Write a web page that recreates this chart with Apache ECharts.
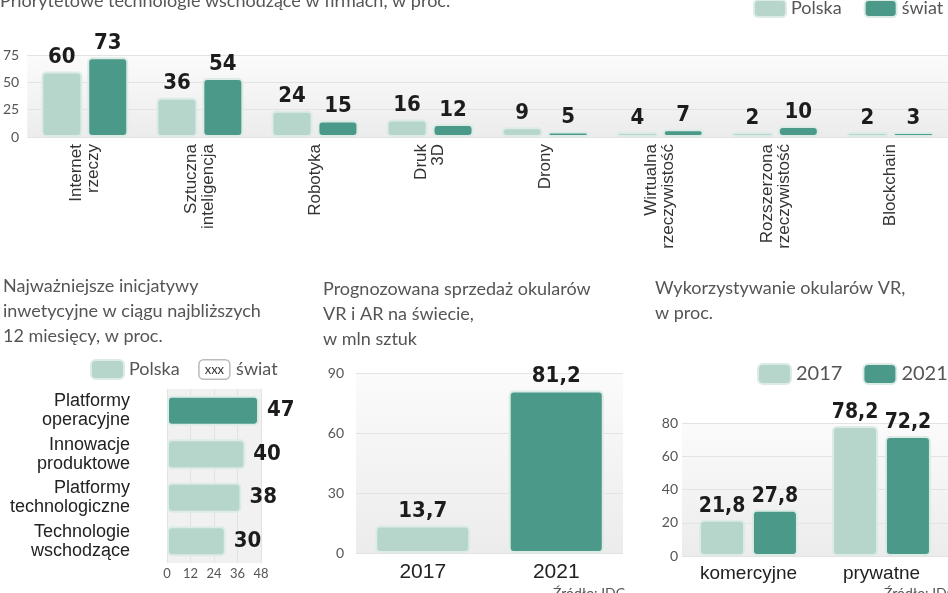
<!DOCTYPE html>
<html><head><meta charset="utf-8">
<script src="https://cdn.jsdelivr.net/npm/echarts/dist/echarts.min.js"></script>
<style>html,body{margin:0;padding:0;background:#fff}#c{width:948px;height:593px}</style>
</head><body><div id="c"></div>
<script>
// ---- data ----
const techCategories = ['Internet\nrzeczy','Sztuczna\ninteligencja','Robotyka','Druk\n3D','Drony','Wirtualna\nrzeczywistość','Rozszerzona\nrzeczywistość','Blockchain'];
const techPolska = [60,36,24,16,9,4,2,2];
const techSwiat  = [73,54,15,12,5,7,10,3];
const techTicks = {min:0, max:75, interval:25};

const initCategories = ['Platformy\noperacyjne','Innowacje\nproduktowe','Platformy\ntechnologiczne','Technologie\nwschodzące'];
const initPolska = [47,40,38,30];
const initSwiat  = [41,43,42,18];
const initTicks = {min:0, max:48, interval:12};

const salesYears  = ['2017','2021'];
const salesValues = [13.7,81.2];
const salesTicks = {min:0, max:90, interval:30};

const useCategories = ['komercyjne','prywatne'];
const use2017 = [21.8,78.2];
const use2021 = [27.8,72.2];
const useTicks = {min:0, max:80, interval:20};

// ---- styles ----
const LIGHT = '#b6d6cc', DARK = '#4b9989', BORDER = '#dcebe6';
const NUM_FONT = "'DejaVu Sans Condensed','Liberation Sans',sans-serif";
const TXT_FONT = "Lato,'Liberation Sans',sans-serif";
const comma = v => String(v).replace('.', ',');
const valLabel = (size) => ({show:true, position:'top', distance:3, fontFamily:NUM_FONT, fontWeight:'bold', fontSize:size, color:'#1c1c1c', formatter:p => comma(p.value)});
const gradBg = {type:'linear', x:0, y:0, x2:0, y2:1, colorStops:[{offset:0,color:'#fbfbfb'},{offset:1,color:'#ececec'}]};
const titleStyle = {fontSize:18, fontWeight:'normal', color:'#555', fontFamily:TXT_FONT, lineHeight:25};
const valueAxisLabel = (margin) => ({fontSize:14, color:'#555', margin, fontFamily:TXT_FONT});
const split = {lineStyle:{color:'#e3e3e3'}};

const option = {
  animation:false,
  title:[
    {text:'Priorytetowe technologie wschodzące w firmach, w proc.', left:0, top:-11, padding:0, textStyle:titleStyle},
    {text:'Najważniejsze inicjatywy\ninwetycyjne w ciągu najbliższych\n12 miesięcy, w proc.', left:3, top:274, padding:0, textStyle:titleStyle},
    {text:'Prognozowana sprzedaż okularów\nVR i AR na świecie,\nw mln sztuk', left:323, top:277, padding:0, textStyle:titleStyle},
    {text:'Wykorzystywanie okularów VR,\nw proc.', left:655, top:276, padding:0, textStyle:titleStyle}
  ],
  legend:[
    {data:['Polska','świat'], left:753, top:-1, padding:0, itemWidth:32, itemHeight:17, itemGap:22, icon:'roundRect',
     textStyle:{fontSize:18, color:'#555', fontFamily:TXT_FONT}},
    {data:[{name:'Polska (inicjatywy)', itemStyle:{color:LIGHT}}], left:90, top:359, padding:0, itemWidth:33, itemHeight:19, icon:'roundRect',
     formatter:() => '{p|Polska}{g|}{box|xxx}{g2|}{p|świat}',
     textStyle:{fontSize:18, color:'#555', fontFamily:TXT_FONT,
       rich:{p:{fontSize:18, color:'#555', fontFamily:TXT_FONT},
             g:{width:20}, g2:{width:7},
             box:{fontSize:13, color:'#333', backgroundColor:'#fff', borderColor:'#bbb', borderWidth:1.5, borderRadius:4, padding:[3,5,2,5]}}}},
    {data:['2017','2021'], left:757, top:363, padding:0, itemWidth:33, itemHeight:20, itemGap:20, icon:'roundRect',
     textStyle:{fontSize:20, color:'#555', fontFamily:TXT_FONT}}
  ],
  grid:[
    {left:26, width:925, top:55, height:82, show:true, backgroundColor:gradBg, borderWidth:0},
    {left:167, width:94, top:389, height:174, show:true, backgroundColor:'#f1f1f1', borderWidth:0},
    {left:356, width:267, top:373, height:180, show:true, backgroundColor:gradBg, borderWidth:0},
    {left:682, width:270, top:423, height:133, show:true, backgroundColor:gradBg, borderWidth:0}
  ],
  xAxis:[
    {gridIndex:0, type:'category', data:techCategories, axisLine:{show:false}, axisTick:{show:false},
     axisLabel:{rotate:90, margin:7, fontSize:17, lineHeight:17, color:'#333', fontFamily:"'Liberation Sans',sans-serif", interval:0}},
    {gridIndex:1, type:'value', ...initTicks, axisLine:{show:false}, axisTick:{show:false},
     axisLabel:{fontSize:13, color:'#555', margin:4, fontFamily:TXT_FONT}, splitLine:{lineStyle:{color:'#e2e2e2'}}},
    {gridIndex:2, type:'category', data:salesYears, axisLine:{show:false}, axisTick:{show:false},
     axisLabel:{fontSize:21, color:'#222', margin:9, fontFamily:"'Liberation Sans',sans-serif", interval:0}},
    {gridIndex:3, type:'category', data:useCategories, axisLine:{show:false}, axisTick:{show:false},
     axisLabel:{fontSize:19, color:'#222', margin:8, fontFamily:"'Liberation Sans',sans-serif", interval:0, hideOverlap:false}}
  ],
  yAxis:[
    {gridIndex:0, type:'value', ...techTicks, axisLabel:valueAxisLabel(8), splitLine:split},
    {gridIndex:1, type:'category', data:initCategories, inverse:true, axisLine:{show:false}, axisTick:{show:false},
     axisLabel:{fontSize:18, lineHeight:19, color:'#222', margin:37, fontFamily:"'Liberation Sans',sans-serif"}},
    {gridIndex:2, type:'value', ...salesTicks, axisLabel:valueAxisLabel(12), splitLine:split},
    {gridIndex:3, type:'value', ...useTicks, axisLabel:valueAxisLabel(4), splitLine:split}
  ],
  series:[
    {name:'Polska', type:'bar', xAxisIndex:0, yAxisIndex:0, data:techPolska, barWidth:41, barGap:'12%', barMinHeight:5,
     itemStyle:{color:LIGHT, borderColor:BORDER, borderWidth:2, borderRadius:4}, label:valLabel(22)},
    {name:'świat', type:'bar', xAxisIndex:0, yAxisIndex:0, data:techSwiat, barWidth:41, barGap:'12%', barMinHeight:5,
     itemStyle:{color:DARK, borderColor:BORDER, borderWidth:2, borderRadius:4}, label:valLabel(22)},

    {name:'Polska (inicjatywy)', type:'bar', xAxisIndex:1, yAxisIndex:1, data:initPolska, barWidth:30,
     itemStyle:{color:p => p.dataIndex === 0 ? DARK : LIGHT, borderColor:BORDER, borderWidth:2, borderRadius:4},
     label:{show:true, position:'right', distance:8, fontFamily:NUM_FONT, fontWeight:'bold', fontSize:22, color:'#1c1c1c'}},
    {name:'świat (inicjatywy)', type:'scatter', xAxisIndex:1, yAxisIndex:1, symbolSize:1, itemStyle:{opacity:0}, z:5,
     data:initSwiat.map((v,i) => [0, initCategories[i], v]),
     label:{show:true, position:'left', distance:2, formatter:p => String(p.value[2]),
       backgroundColor:'#fff', borderColor:'#c4c4c4', borderWidth:1.5, borderRadius:4, padding:[7,5,6,5],
       fontSize:15, color:'#333', fontFamily:"'Liberation Sans',sans-serif"}},

    {name:'sprzedaż', type:'bar', xAxisIndex:2, yAxisIndex:2, data:salesValues, barWidth:95,
     itemStyle:{color:p => p.dataIndex === 0 ? LIGHT : DARK, borderColor:BORDER, borderWidth:2, borderRadius:4}, label:valLabel(22)},

    {name:'2017', type:'bar', xAxisIndex:3, yAxisIndex:3, data:use2017, barWidth:46, barGap:'15%',
     itemStyle:{color:LIGHT, borderColor:BORDER, borderWidth:2, borderRadius:4}, label:valLabel(21)},
    {name:'2021', type:'bar', xAxisIndex:3, yAxisIndex:3, data:use2021, barWidth:46, barGap:'15%',
     itemStyle:{color:DARK, borderColor:BORDER, borderWidth:2, borderRadius:4}, label:valLabel(21)}
  ],
  graphic:[
    {type:'text', left:553, top:586, style:{text:'Źródło: IDC', fontSize:14, fill:'#555', fontFamily:TXT_FONT}},
    {type:'text', left:884, top:586, style:{text:'Źródło: IDC', fontSize:14, fill:'#555', fontFamily:TXT_FONT}}
  ]
};
const chart = echarts.init(document.getElementById('c'), null, {renderer:'canvas'});
chart.setOption(option);
</script></body></html>
